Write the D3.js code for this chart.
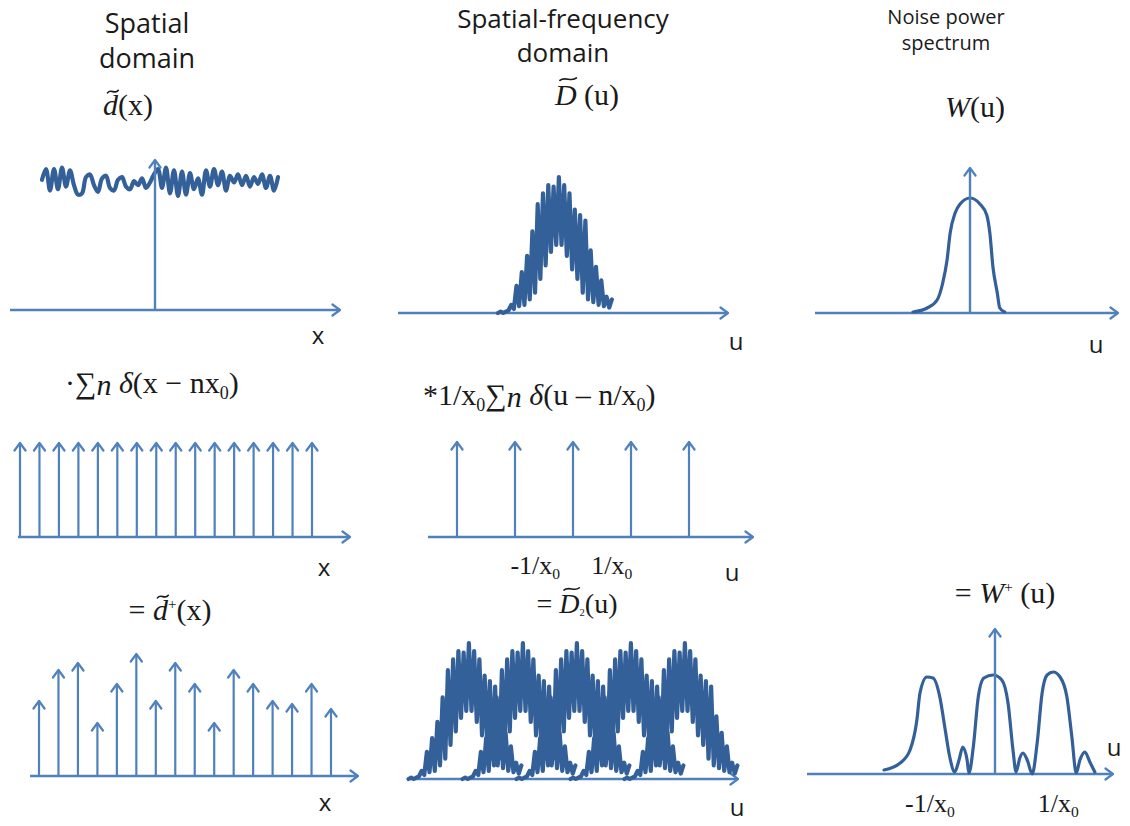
<!DOCTYPE html>
<html><head><meta charset="utf-8">
<script src="https://cdn.jsdelivr.net/npm/d3@7"></script>
<style>body{margin:0;background:#fff}</style>
</head><body>
<svg id="c" width="1130" height="826"></svg>
<script>
// ---------------- data ----------------
// spatial-domain noise realisation d~(x) (arbitrary units, evenly sampled)
const noiseSamples = [0.2,1.0,-0.6,1.0,-0.5,1.1,-0.3,0.9,-0.2,
  -0.9,-0.8,0.4,0.6,-0.2,-0.7,0.3,0.5,-0.4,
  -0.6,0.2,0.4,-0.3,-0.5,0.1,-0.2,0.3,-0.4,0.0,
  0.6,
  1.0,-0.4,1.1,-0.8,0.9,-1.0,0.8,-0.9,0.7,-0.5,0.3,
  -0.9,0.9,-0.3,1.0,-0.2,0.8,-0.6,0.5,0.0,0.6,-0.2,0.5,
  -0.3,0.4,-0.1,0.6,-0.4,0.5,-0.6,0.4];
// spatial-frequency magnitude D~(u), evenly sampled from spectrumStartU to spectrumEndU
const spectrumSamples = [0.00,0.01,0.00,0.01,0.02,0.06,0.03,0.20,0.05,0.30,
  0.06,0.42,0.10,0.60,0.15,0.80,0.25,0.88,0.35,0.94,
  0.45,0.93,0.50,1.00,0.50,0.94,0.42,0.88,0.32,0.76,
  0.25,0.72,0.15,0.68,0.10,0.46,0.08,0.34,0.06,0.24,
  0.05,0.12,0.04,0.10];
const spectrumStartU = -1.12, spectrumEndU = 0.97;
// noise power spectrum W(u)
const noisePowerU = [-0.92,-0.69,-0.53,-0.44,-0.37,-0.32,-0.24,-0.16,0,0.16,0.27,0.32,0.37,0.44,0.48,0.56];
const noisePowerW = [0.01,0.05,0.13,0.30,0.53,0.80,1.00,1.09,1.15,1.09,0.98,0.80,0.46,0.20,0.05,0.01];
// sampling comb indices (spatial) and sampled values d~+(x)
const combIndex = [0,1,2,3,4,5,6,7,8,9,10,11,12,13,14,15];
const sampledValues = [3.0,4.24,4.52,2.12,3.68,4.88,3.0,4.52,3.68,2.12,4.24,3.68,3.0,2.88,3.68,2.68];
// frequency comb n/x0
const freqCombN = [-2,-1,0,1,2];
const replicaShifts = [-2,-1,0,1,2];
const freqTickLabels = ["-1/x", "1/x"];
// aliased noise power spectrum W+(u)
const aliasedU = [-1.79,-1.53,-1.37,-1.26,-1.21,-1.10,-1.00,-0.89,-0.81,-0.73,-0.65,-0.58,-0.52,-0.45,-0.42,-0.35,-0.27,-0.18,-0.03,0.11,0.21,0.29,0.34,0.40,0.45,0.52,0.60,0.68,0.76,0.84,0.94,1.05,1.16,1.24,1.31,1.37,1.45,1.53,1.61];
const aliasedW = [0.04,0.11,0.24,0.54,0.81,0.97,0.96,0.77,0.47,0.17,0.02,0.14,0.27,0.14,0.01,0.27,0.77,0.96,0.99,0.94,0.71,0.24,0.02,0.16,0.21,0.14,0.00,0.31,0.81,0.99,1.02,0.97,0.77,0.37,0.01,0.14,0.22,0.12,0.02];
const columnTitles = [["Spatial","domain"],["Spatial-frequency","domain"],["Noise power","spectrum"]];

// ---------------- drawing ----------------
const SERIF = "'Liberation Serif','DejaVu Serif',serif";
const SANS = "'Open Sans','Noto Sans',sans-serif";
const C_AXIS = "#4f81bd", C_CURVE = "#34609a", C_TEXT = "#1a1a1a";
const svg = d3.select("#c");
const defs = svg.append("defs");
defs.append("marker").attr("id","ah").attr("viewBox","-10 -7 12 14")
  .attr("refX",0).attr("refY",0).attr("markerWidth",12).attr("markerHeight",14)
  .attr("markerUnits","userSpaceOnUse").attr("orient","auto")
  .append("path").attr("d","M-7.5,-5.5 L0,0 L-7.5,5.5").attr("fill","none")
  .attr("stroke",C_AXIS).attr("stroke-width",2.2).attr("stroke-linecap","round").attr("stroke-linejoin","round");

function arrow(x1,y1,x2,y2,sw){
  svg.append("line").attr("x1",x1).attr("y1",y1).attr("x2",x2).attr("y2",y2)
    .attr("stroke",C_AXIS).attr("stroke-width",sw||2.4).attr("marker-end","url(#ah)");
}
function curve(xs, ys, sx, sy, crv, sw){
  const pts = xs.map((u,i)=>[sx(u), sy(ys[i])]);
  svg.append("path").attr("d", d3.line().curve(crv)(pts))
    .attr("fill","none").attr("stroke",C_CURVE).attr("stroke-width",sw)
    .attr("stroke-linejoin","round").attr("stroke-linecap","round");
}
function sansLabel(x,y,txt,size){
  svg.append("text").attr("x",x).attr("y",y).attr("text-anchor","middle")
    .attr("font-family",SANS).attr("font-size",size||24).attr("fill",C_TEXT).text(txt);
}
function mathText(x, y, parts, size, anchor){
  const t = svg.append("text").attr("x",x).attr("y",y)
    .attr("font-family",SERIF).attr("font-size",size).attr("fill",C_TEXT)
    .attr("text-anchor",anchor||"middle");
  let cur = 0, idx = 0; const marks = [];
  parts.forEach(p=>{
    const s = t.append("tspan").text(p.t).attr("font-size", size*(p.s||1));
    const off = (p.off||0)*size;
    if (off !== cur) { s.attr("dy", off-cur); cur = off; }
    if (p.i) s.attr("font-style","italic");
    if (p.dx) s.attr("dx", p.dx*size);
    if (p.tilde) marks.push({idx, w:p.tilde, h:p.th||0.8, it:!!p.i});
    idx += p.t.length;
  });
  marks.forEach(m=>{
    const e = t.node().getExtentOfChar(m.idx);
    const cx = e.x + e.width/2 + (m.it ? size*0.08 : 0);
    const w = m.w*size, a = size*0.07, ty = y - m.h*size;
    const x0 = cx - w/2;
    svg.append("path")
      .attr("d",`M${x0},${ty+a*0.6} C${x0+w*0.3},${ty-a*1.6} ${x0+w*0.7},${ty+a*1.6} ${x0+w},${ty-a*0.6}`)
      .attr("fill","none").attr("stroke",C_TEXT).attr("stroke-width",size*0.055).attr("stroke-linecap","round");
  });
  return t;
}

// titles (two lines in one text element)
function title(cx, y1, y2, lines, size){
  const t = svg.append("text").attr("x",cx).attr("y",y1).attr("text-anchor","middle")
    .attr("font-family",SANS).attr("font-size",size).attr("fill",C_TEXT);
  t.append("tspan").attr("x",cx).text(lines[0]);
  t.append("tspan").attr("x",cx).attr("dy",y2-y1).text(lines[1]);
}
title(147, 33, 68, columnTitles[0], 27);
title(563, 28, 62, columnTitles[1], 26);
title(946, 24, 50, columnTitles[2], 20);

// ---- top-left: d~(x)
{
  const sx = d3.scaleLinear().domain([0, noiseSamples.length-1]).range([42, 278]);
  const sy = d3.scaleLinear().domain([-1, 1]).range([196, 169]);
  arrow(10,310,340,310);
  curve(noiseSamples.map((d,i)=>i), noiseSamples, sx, sy, d3.curveCatmullRom.alpha(0.5), 4.2);
  arrow(155,310,155,160);
  mathText(128,115,[{t:"d",i:true,tilde:0.36,th:0.78},{t:"(x)"}],30);
  sansLabel(318,344,"x");
}
// ---- top-middle: D~(u)
{
  const sx = d3.scaleLinear().domain([0,1]).range([559, 613.5]);
  const sy = d3.scaleLinear().domain([0,1]).range([313,177]);
  const n = spectrumSamples.length;
  const us = spectrumSamples.map((d,i)=> spectrumStartU + i*(spectrumEndU-spectrumStartU)/(n-1));
  arrow(398,313,728,313);
  curve(us, spectrumSamples, sx, sy, d3.curveLinear, 4.2);
  mathText(587,105,[{t:"D",i:true,tilde:0.55,th:0.86},{t:" (u)"}],30);
  sansLabel(736,350,"u");
}
// ---- top-right: W(u)
{
  const sx = d3.scaleLinear().domain([0,1]).range([970,1032]);
  const sy = d3.scaleLinear().domain([0,1]).range([313,213]);
  arrow(815,313,1118,313);
  curve(noisePowerU, noisePowerW, sx, sy, d3.curveMonotoneX, 3.2);
  arrow(970,313,970,168);
  mathText(975,117,[{t:"W",i:true},{t:"(u)"}],30);
  sansLabel(1096,353,"u");
}
// ---- middle-left: comb
{
  const sx = d3.scaleLinear().domain([0,15]).range([20,312]);
  const sy = d3.scaleLinear().domain([0,1]).range([537,443]);
  arrow(18,537,350,537);
  combIndex.forEach(i=>arrow(sx(i),537,sx(i),sy(1),2.2));
  mathText(65,393,[{t:"·∑"},{t:"n",i:true,off:0.08},{t:" "},{t:"δ",i:true,off:0},{t:"(x − nx"},{t:"0",s:0.6,off:0.2},{t:")",off:0}],30,"start");
  sansLabel(324,576,"x");
}
// ---- middle-middle: frequency comb
{
  const sx = d3.scaleLinear().domain([0,1]).range([573,631]);
  const sy = d3.scaleLinear().domain([0,1]).range([537,442]);
  arrow(428,537,753,537);
  freqCombN.forEach(n=>arrow(sx(n),537,sx(n),sy(1),2.2));
  mathText(423,405,[{t:"*"},{t:"1/x"},{t:"0",s:0.6,off:0.2},{t:"∑",off:0},{t:"n",i:true,off:0.08},{t:" ",off:0},{t:"δ",i:true},{t:"(u – n/x"},{t:"0",s:0.6,off:0.2},{t:")",off:0}],30,"start");
  mathText(sx(-0.65),574,[{t:freqTickLabels[0]},{t:"0",s:0.6,off:0.18}],26);
  mathText(sx(0.67),574,[{t:freqTickLabels[1]},{t:"0",s:0.6,off:0.18}],26);
  sansLabel(732,581,"u");
}
// ---- bottom-left: sampled values
{
  const sx = d3.scaleLinear().domain([0,15]).range([39,331]);
  const sy = d3.scaleLinear().domain([0,1]).range([776,751]);
  arrow(30,776,358,776);
  combIndex.forEach((i,k)=>arrow(sx(i),776,sx(i),sy(sampledValues[k]),2.2));
  mathText(170,620,[{t:"= "},{t:"d",i:true,tilde:0.36,th:0.78},{t:"+",s:0.5,off:-0.38},{t:"(x)",off:0}],30);
  sansLabel(325,811,"x");
}
// ---- bottom-middle: replicated spectra
{
  const sx = d3.scaleLinear().domain([0,1]).range([577,631]);
  const sy = d3.scaleLinear().domain([0,1]).range([779,643]);
  const n = spectrumSamples.length;
  const us = spectrumSamples.map((d,i)=> spectrumStartU + i*(spectrumEndU-spectrumStartU)/(n-1));
  arrow(410,779,738,779);
  replicaShifts.forEach(k=>curve(us.map(u=>u+k), spectrumSamples, sx, sy, d3.curveLinear, 4.2));
  mathText(577,613,[{t:"= "},{t:"D",i:true,tilde:0.55,th:0.86},{t:"2",s:0.38,off:0.12},{t:"(u)",off:0}],28);
  sansLabel(737,816,"u");
}
// ---- bottom-right: W+(u)
{
  const sx = d3.scaleLinear().domain([0,1]).range([995,1057]);
  const sy = d3.scaleLinear().domain([0,1]).range([774,674]);
  arrow(807,774,1113,774);
  curve(aliasedU, aliasedW, sx, sy, d3.curveMonotoneX, 3.2);
  arrow(995,774,995,629);
  mathText(1005,603,[{t:"= "},{t:"W",i:true},{t:"+",s:0.5,off:-0.38},{t:" (u)",off:0}],30);
  mathText(sx(-1.05),812,[{t:freqTickLabels[0]},{t:"0",s:0.6,off:0.18}],26);
  mathText(sx(1.02),812,[{t:freqTickLabels[1]},{t:"0",s:0.6,off:0.18}],26);
  sansLabel(1114,756,"u");
}
</script>
</body></html>
